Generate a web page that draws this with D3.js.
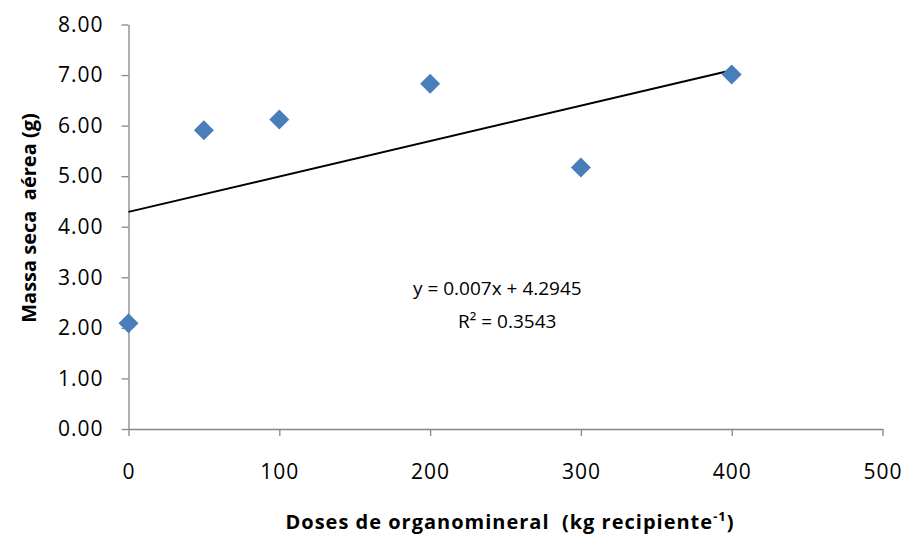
<!DOCTYPE html>
<html>
<head>
<meta charset="utf-8">
<script src="https://cdn.jsdelivr.net/npm/d3@7"></script>
<style>
  body { margin: 0; background: #fff; }
  svg text { font-family: "Open Sans", sans-serif; fill: #000; }
  .tick text { font-size: 21px; letter-spacing: 1px; }
  .axis-title { font-weight: bold; font-size: 20px; }
  .eq { font-size: 19px; }
</style>
</head>
<body>
<svg id="chart" width="903" height="536"></svg>
<script>
// data
const doses = [0, 50, 100, 200, 300, 400];
const massa = [2.09, 5.91, 6.12, 6.83, 5.17, 7.01];
const xTicks = [0, 100, 200, 300, 400, 500];
const yTicks = [0, 1, 2, 3, 4, 5, 6, 7, 8];

// trendline shown on the chart
const slope = 0.007;
const intercept = 4.2945;
const trendRange = [0, 400];
const eqLabel = 'y = 0.007x + 4.2945';
const r2Label = 'R² = 0.3543';

const svg = d3.select('#chart');
const plotLeft = 128.5, plotRight = 882.5, plotTop = 24.5, plotBottom = 429;

const x = d3.scaleLinear().domain([0, 500]).range([plotLeft, plotRight]);
const y = d3.scaleLinear().domain([0, 8]).range([plotBottom, plotTop]);

const axisColor = '#868686';

const gx = svg.append('g')
  .attr('transform', `translate(0,${plotBottom})`)
  .call(d3.axisBottom(x).tickValues(xTicks).tickSize(7).tickSizeOuter(0).tickPadding(28));

const gy = svg.append('g')
  .attr('transform', `translate(${plotLeft},0)`)
  .call(d3.axisLeft(y).tickValues(yTicks).tickSize(7).tickSizeOuter(0).tickPadding(18)
    .tickFormat(d3.format('.2f')));

[gx, gy].forEach(g => {
  g.selectAll('path, line').attr('stroke', axisColor).attr('stroke-width', 1.3);
  g.selectAll('text').attr('fill', '#000').style('font-family', '"Open Sans", sans-serif');
});

// trendline
svg.append('line')
  .attr('x1', x(trendRange[0]))
  .attr('y1', y(intercept + slope * trendRange[0]))
  .attr('x2', x(trendRange[1]))
  .attr('y2', y(intercept + slope * trendRange[1]))
  .attr('stroke', '#000')
  .attr('stroke-width', 2);

// points (diamonds)
const diamond = d3.symbol().type(d3.symbolSquare).size(200);
svg.append('g')
  .selectAll('path')
  .data(doses.map((d, i) => ({ dose: d, value: massa[i] })))
  .join('path')
  .attr('d', diamond)
  .attr('transform', d => `translate(${x(d.dose)},${y(d.value)}) rotate(45)`)
  .attr('fill', '#4a7ebb');

// equation
svg.append('text').attr('class', 'eq')
  .attr('x', 413).attr('y', 295)
  .text(eqLabel);
svg.append('text').attr('class', 'eq')
  .attr('x', 458).attr('y', 328)
  .text(r2Label);

// axis titles
const xt = svg.append('text').attr('class', 'axis-title')
  .attr('x', 510).attr('y', 529)
  .attr('text-anchor', 'middle')
  .style('letter-spacing', '1px');
xt.append('tspan').text('Doses de organomineral\u00a0 (kg recipiente');
xt.append('tspan').attr('dy', -8).style('font-size', '13px').text('-1');
xt.append('tspan').attr('dy', 8).text(')');

svg.append('text').attr('class', 'axis-title')
  .attr('transform', `translate(36,218) rotate(-90)`)
  .attr('text-anchor', 'middle')
  .text('Massa seca\u00a0 aérea (g)');
</script>
</body>
</html>
